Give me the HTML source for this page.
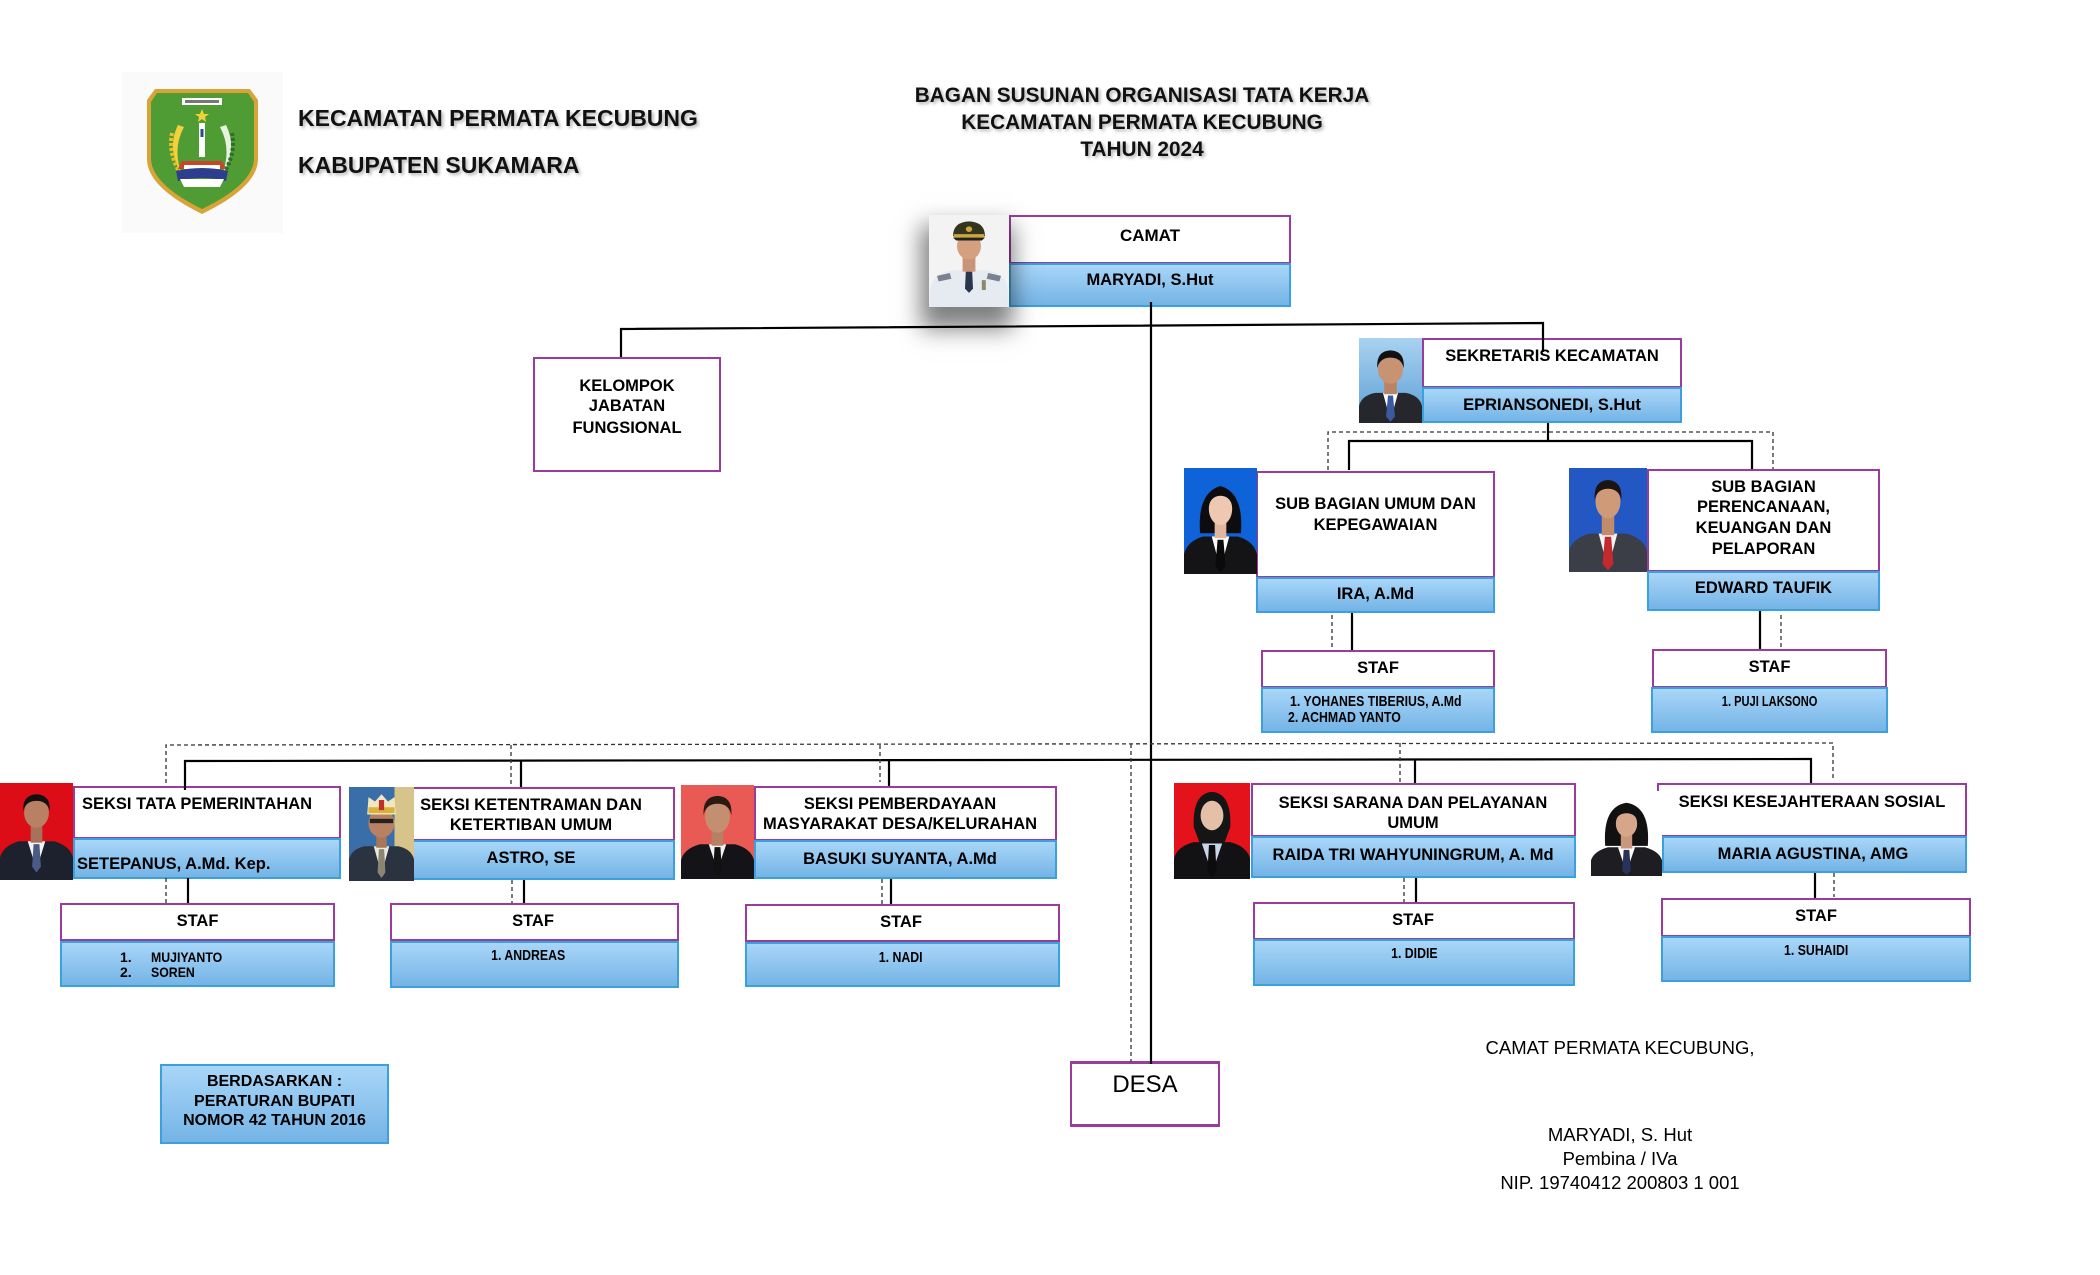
<!DOCTYPE html>
<html><head><meta charset="utf-8">
<style>
html,body{margin:0;padding:0;background:#fff;}
#pg{position:relative;width:2100px;height:1275px;overflow:hidden;background:#fff;font-family:"Liberation Sans",Arial,sans-serif;}
.w{position:absolute;background:#fff;border:2px solid #9b3c9c;box-sizing:border-box;}
.b{position:absolute;background:linear-gradient(#a9d6f8,#74b4e6);border:2px solid #3aa1dc;box-sizing:border-box;}
.t{position:absolute;font-weight:bold;font-size:16.5px;text-align:center;line-height:20px;height:20px;white-space:nowrap;color:#000;}
.l{text-align:left;}
.s{font-size:15px;}
.s span{display:inline-block;transform:scaleX(0.82);}
.p{position:absolute;overflow:hidden;}
.p svg{display:block;width:100%;height:100%;}
.hd{position:absolute;font-weight:bold;white-space:nowrap;color:#111;text-shadow:2px 2px 3px rgba(0,0,0,0.3);}
.sig{position:absolute;left:1420px;width:400px;text-align:center;font-size:18.5px;line-height:24px;height:24px;color:#000;white-space:nowrap;}
</style></head>
<body><div id="pg">

<!-- LOGO -->
<div style="position:absolute;left:122px;top:72px;width:161px;height:161px;background:#fafafa;"></div>
<svg style="position:absolute;left:146px;top:87px;" width="113" height="128" viewBox="0 0 113 128">
<path d="M9,2 L104,2 L112,13 L112,72 Q112,100 56,127 Q1,100 1,72 L1,13 Z" fill="#d9a437"/>
<path d="M11,6 L102,6 L108,15 L108,71 Q108,97 56,122 Q5,97 5,71 L5,15 Z" fill="#4f9b34"/>
<rect x="36" y="11" width="40" height="7" fill="#fff"/>
<rect x="39" y="13" width="34" height="3" fill="#777"/>
<polygon points="56,22 58,27 63,27 59,30 60,35 56,32 52,35 53,30 49,27 54,27" fill="#f2d23a"/>
<rect x="53" y="36" width="6" height="34" fill="#fff"/>
<rect x="54.5" y="42" width="3" height="8" fill="#2b4a8a"/>
<path d="M32,38 Q20,62 36,88 Q26,62 38,40 Z" fill="#f2d13c"/>
<path d="M26,46 Q22,66 34,86" stroke="#e8c02a" stroke-width="4" fill="none" stroke-dasharray="3 2"/>
<path d="M80,38 Q92,62 76,88 Q86,62 74,40 Z" fill="#e8f2e0"/>
<path d="M86,46 Q90,66 78,86" stroke="#2f6e2a" stroke-width="4" fill="none" stroke-dasharray="3 2"/>
<path d="M36,74 L76,74 L80,82 L32,82 Z" fill="#c8452c"/>
<rect x="38" y="78" width="36" height="4" fill="#fff"/>
<path d="M30,84 Q56,78 82,84 L80,94 Q56,88 32,94 Z" fill="#2d3f8c"/>
<path d="M34,92 L78,92 L74,100 L38,100 Z" fill="#fff"/>
</svg>

<div class="hd" style="left:298px;top:104px;font-size:23px;line-height:28px;">KECAMATAN PERMATA KECUBUNG</div>
<div class="hd" style="left:298px;top:151px;font-size:23px;line-height:28px;">KABUPATEN SUKAMARA</div>

<div class="hd" style="left:842px;width:600px;text-align:center;top:83px;font-size:20.8px;line-height:26px;">BAGAN SUSUNAN ORGANISASI TATA KERJA</div>
<div class="hd" style="left:842px;width:600px;text-align:center;top:110px;font-size:20.8px;line-height:26px;">KECAMATAN PERMATA KECUBUNG</div>
<div class="hd" style="left:842px;width:600px;text-align:center;top:137px;font-size:20.8px;line-height:26px;">TAHUN 2024</div>

<!-- CAMAT -->
<div class="w" style="left:1009px;top:215px;width:282px;height:49px;"></div>
<div class="b" style="left:1009px;top:263px;width:282px;height:44px;"></div>
<div class="t" style="left:1009px;width:282px;top:226px;font-size:17px;">CAMAT</div>
<div class="t" style="left:1009px;width:282px;top:270px;">MARYADI, S.Hut</div>
<div class="p" style="left:929px;top:215px;width:80px;height:92px;box-shadow:-2px 16px 22px 6px rgba(0,0,0,0.5);">
<svg viewBox="0 0 100 130" preserveAspectRatio="none"><rect width="100" height="130" fill="#f3f3f3"/>
<path d="M0,130 L2,100 Q6,84 28,78 L72,78 Q94,84 98,100 L100,130Z" fill="#e6ebf1"/>
<path d="M10,86 L26,82 L28,90 L12,94Z" fill="#7a8290"/><path d="M90,86 L74,82 L72,90 L88,94Z" fill="#7a8290"/>
<path d="M46,80 L54,80 L55,104 L50,110 L45,104Z" fill="#2a3550"/>
<rect x="66" y="92" width="5" height="14" fill="#8a8a6a"/>
<rect x="42" y="58" width="16" height="22" fill="#c99478"/>
<ellipse cx="50" cy="44" rx="15" ry="19" fill="#d4a080"/>
<path d="M30,30 Q30,10 50,9 Q70,10 70,30 Z" fill="#35351f"/>
<rect x="31" y="27" width="38" height="5" fill="#c9a640"/>
<path d="M30,32 L70,32 L66,36 L34,36Z" fill="#222"/>
<circle cx="50" cy="20" r="4" fill="#c9a640"/>
</svg></div>

<!-- KELOMPOK -->
<div class="w" style="left:533px;top:357px;width:188px;height:115px;"></div>
<div class="t" style="left:533px;width:188px;top:376px;">KELOMPOK</div>
<div class="t" style="left:533px;width:188px;top:396px;">JABATAN</div>
<div class="t" style="left:533px;width:188px;top:418px;">FUNGSIONAL</div>

<!-- SEKRETARIS -->
<div class="w" style="left:1422px;top:338px;width:260px;height:50px;"></div>
<div class="b" style="left:1422px;top:387px;width:260px;height:36px;"></div>
<div class="t" style="left:1422px;width:260px;top:346px;">SEKRETARIS KECAMATAN</div>
<div class="t" style="left:1422px;width:260px;top:395px;">EPRIANSONEDI, S.Hut</div>
<div class="p" style="left:1359px;top:338px;width:63px;height:85px;">
<svg viewBox="0 0 100 130" preserveAspectRatio="none"><defs><linearGradient id="g1" x1="0" y1="0" x2="0" y2="1"><stop offset="0" stop-color="#a9d2f0"/><stop offset="1" stop-color="#5b9fd6"/></linearGradient></defs>
<rect width="100" height="130" fill="url(#g1)"/>
<path d="M0,130 L0,104 Q4,88 26,84 L74,84 Q96,88 100,104 L100,130Z" fill="#26272c"/>
<path d="M38,84 L50,126 L62,84Z" fill="#fff"/>
<path d="M46,88 L54,88 L57,120 L50,128 L43,120Z" fill="#3c5aa2"/>
<rect x="40" y="64" width="20" height="22" fill="#b88466"/>
<ellipse cx="50" cy="48" rx="20" ry="22" fill="#c79373"/>
<path d="M29,46 Q27,20 50,19 Q73,20 71,46 Q67,30 50,30 Q33,30 29,46Z" fill="#111"/>
</svg></div>

<!-- SUB BAGIAN UMUM -->
<div class="w" style="left:1256px;top:471px;width:239px;height:107px;"></div>
<div class="b" style="left:1256px;top:577px;width:239px;height:36px;"></div>
<div class="t" style="left:1256px;width:239px;top:494px;">SUB BAGIAN UMUM DAN</div>
<div class="t" style="left:1256px;width:239px;top:515px;">KEPEGAWAIAN</div>
<div class="t" style="left:1256px;width:239px;top:584px;">IRA, A.Md</div>
<div class="p" style="left:1184px;top:468px;width:73px;height:106px;">
<svg viewBox="0 0 100 130" preserveAspectRatio="none"><rect width="100" height="130" fill="#0e63d8"/>
<path d="M22,80 Q18,30 50,22 Q82,30 78,80 Z" fill="#0d0d0f"/>
<path d="M0,130 L0,106 Q4,90 26,84 L74,84 Q96,90 100,106 L100,130Z" fill="#141417"/>
<path d="M38,84 L50,124 L62,84Z" fill="#fff"/>
<path d="M46,88 L54,88 L57,120 L50,128 L43,120Z" fill="#0a0a0a"/>
<rect x="42" y="64" width="16" height="22" fill="#e2b69e"/>
<ellipse cx="50" cy="50" rx="16" ry="20" fill="#efc8b2"/>
<path d="M33,50 Q30,26 50,25 Q70,26 67,50 Q64,34 50,34 Q36,34 33,50Z" fill="#0d0d0f"/>
</svg></div>

<!-- SUB BAGIAN PERENCANAAN -->
<div class="w" style="left:1647px;top:469px;width:233px;height:103px;"></div>
<div class="b" style="left:1647px;top:571px;width:233px;height:40px;"></div>
<div class="t" style="left:1647px;width:233px;top:477px;">SUB BAGIAN</div>
<div class="t" style="left:1647px;width:233px;top:497px;">PERENCANAAN,</div>
<div class="t" style="left:1647px;width:233px;top:518px;">KEUANGAN DAN</div>
<div class="t" style="left:1647px;width:233px;top:539px;">PELAPORAN</div>
<div class="t" style="left:1647px;width:233px;top:578px;">EDWARD TAUFIK</div>
<div class="p" style="left:1569px;top:468px;width:78px;height:104px;">
<svg viewBox="0 0 100 130" preserveAspectRatio="none"><rect width="100" height="130" fill="#2358c4"/>
<path d="M0,130 L0,104 Q4,88 26,82 L74,82 Q96,88 100,104 L100,130Z" fill="#3b3e46"/>
<path d="M38,82 L50,126 L62,82Z" fill="#f2f2f2"/>
<path d="M46,86 L54,86 L57,120 L50,128 L43,120Z" fill="#c22a30"/>
<rect x="42" y="60" width="16" height="24" fill="#c08c6c"/>
<ellipse cx="50" cy="42" rx="16" ry="21" fill="#cf9a78"/>
<path d="M33,40 Q31,16 50,15 Q69,16 67,40 Q64,26 50,26 Q36,26 33,40Z" fill="#1a1412"/>
</svg></div>

<!-- STAF IRA -->
<div class="w" style="left:1261px;top:650px;width:234px;height:38px;"></div>
<div class="b" style="left:1261px;top:687px;width:234px;height:46px;"></div>
<div class="t" style="left:1261px;width:234px;top:658px;">STAF</div>
<div class="t s l" style="left:1290px;top:692px;"><span style="transform-origin:left;">1. YOHANES TIBERIUS, A.Md</span></div>
<div class="t s l" style="left:1288px;top:708px;"><span style="transform-origin:left;">2. ACHMAD YANTO</span></div>

<!-- STAF EDWARD -->
<div class="w" style="left:1652px;top:649px;width:235px;height:39px;"></div>
<div class="b" style="left:1651px;top:687px;width:237px;height:46px;"></div>
<div class="t" style="left:1652px;width:235px;top:657px;">STAF</div>
<div class="t s" style="left:1652px;width:235px;top:692px;"><span style="transform:scaleX(0.74);">1. PUJI LAKSONO</span></div>

<!-- SEKSI TATA PEMERINTAHAN -->
<div class="w" style="left:73px;top:786px;width:268px;height:53px;"></div>
<div class="b" style="left:73px;top:838px;width:268px;height:41px;"></div>
<div class="t l" style="left:82px;top:794px;">SEKSI TATA PEMERINTAHAN</div>
<div class="t l" style="left:77px;top:854px;">SETEPANUS, A.Md. Kep.</div>
<div class="p" style="left:0px;top:783px;width:73px;height:97px;">
<svg viewBox="0 0 100 130" preserveAspectRatio="none"><rect width="100" height="130" fill="#dc0d16"/>
<path d="M0,130 L0,100 Q4,84 26,78 L74,78 Q96,84 100,100 L100,130Z" fill="#1c212d"/>
<path d="M38,78 L50,116 L62,78Z" fill="#f4f4f4"/>
<path d="M46,82 L54,82 L56,112 L50,120 L44,112Z" fill="#4a5c86"/>
<rect x="42" y="56" width="16" height="24" fill="#a8725a"/>
<ellipse cx="50" cy="40" rx="17" ry="20" fill="#b98064"/>
<path d="M32,38 Q30,16 50,15 Q70,16 68,38 Q65,24 50,24 Q35,24 32,38Z" fill="#141010"/>
</svg></div>

<div class="w" style="left:60px;top:903px;width:275px;height:38px;"></div>
<div class="b" style="left:60px;top:941px;width:275px;height:46px;"></div>
<div class="t" style="left:60px;width:275px;top:911px;">STAF</div>
<div class="t l" style="left:120px;top:947px;font-size:14px;">1.</div>
<div class="t l" style="left:151px;top:947px;font-size:14px;"><span style="display:inline-block;transform:scaleX(0.88);transform-origin:left;">MUJIYANTO</span></div>
<div class="t l" style="left:120px;top:962px;font-size:14px;">2.</div>
<div class="t l" style="left:151px;top:962px;font-size:14px;"><span style="display:inline-block;transform:scaleX(0.88);transform-origin:left;">SOREN</span></div>

<!-- SEKSI KETENTRAMAN -->
<div class="w" style="left:389px;top:787px;width:286px;height:54px;"></div>
<div class="b" style="left:389px;top:840px;width:286px;height:40px;"></div>
<div class="t" style="left:414px;width:234px;top:795px;">SEKSI KETENTRAMAN DAN</div>
<div class="t" style="left:414px;width:234px;top:815px;">KETERTIBAN UMUM</div>
<div class="t" style="left:414px;width:234px;top:848px;">ASTRO, SE</div>
<div class="p" style="left:349px;top:787px;width:65px;height:94px;">
<svg viewBox="0 0 100 130" preserveAspectRatio="none"><rect width="100" height="130" fill="#3a6ea8"/>
<rect x="70" width="30" height="130" fill="#d6c48a"/>
<path d="M0,130 L0,100 Q4,86 24,82 L76,82 Q96,86 100,100 L100,130Z" fill="#2b3240"/>
<path d="M38,82 L50,120 L62,82Z" fill="#e8e8e0"/>
<path d="M46,86 L54,86 L56,118 L50,126 L44,118Z" fill="#8a8670"/>
<rect x="42" y="62" width="16" height="22" fill="#a87658"/>
<ellipse cx="50" cy="50" rx="20" ry="20" fill="#b88262"/>
<rect x="32" y="44" width="36" height="6" fill="#222"/>
<path d="M28,38 L30,14 L40,20 L50,10 L60,20 L70,14 L72,38 Z" fill="#f0e6c0"/>
<rect x="30" y="28" width="40" height="8" fill="#d9b23a"/>
<rect x="46" y="18" width="8" height="14" fill="#c0302a"/>
</svg></div>

<div class="w" style="left:390px;top:903px;width:289px;height:38px;"></div>
<div class="b" style="left:390px;top:941px;width:289px;height:47px;"></div>
<div class="t" style="left:390px;width:286px;top:911px;">STAF</div>
<div class="t s" style="left:390px;width:276px;top:946px;"><span>1. ANDREAS</span></div>

<!-- SEKSI PEMBERDAYAAN -->
<div class="w" style="left:754px;top:786px;width:303px;height:55px;"></div>
<div class="b" style="left:754px;top:840px;width:303px;height:39px;"></div>
<div class="t" style="left:754px;width:292px;top:794px;">SEKSI PEMBERDAYAAN</div>
<div class="t" style="left:754px;width:292px;top:814px;">MASYARAKAT DESA/KELURAHAN</div>
<div class="t" style="left:754px;width:292px;top:849px;">BASUKI SUYANTA, A.Md</div>
<div class="p" style="left:681px;top:785px;width:73px;height:94px;">
<svg viewBox="0 0 100 130" preserveAspectRatio="none"><rect width="100" height="130" fill="#ea5a55"/>
<path d="M0,130 L0,104 Q4,88 26,82 L74,82 Q96,88 100,104 L100,130Z" fill="#141418"/>
<path d="M38,82 L50,118 L62,82Z" fill="#f2f2f2"/>
<path d="M46,86 L54,86 L56,118 L50,126 L44,118Z" fill="#111"/>
<rect x="42" y="60" width="16" height="24" fill="#b68064"/>
<ellipse cx="50" cy="44" rx="17" ry="22" fill="#c48e70"/>
<path d="M31,42 Q29,16 50,15 Q71,16 69,42 Q66,26 50,26 Q34,26 31,42Z" fill="#2a1a12"/>
</svg></div>

<div class="w" style="left:745px;top:904px;width:315px;height:38px;"></div>
<div class="b" style="left:745px;top:942px;width:315px;height:45px;"></div>
<div class="t" style="left:745px;width:312px;top:912px;">STAF</div>
<div class="t s" style="left:745px;width:312px;top:948px;"><span>1. NADI</span></div>

<!-- SEKSI SARANA -->
<div class="w" style="left:1251px;top:783px;width:325px;height:54px;"></div>
<div class="b" style="left:1251px;top:836px;width:325px;height:42px;"></div>
<div class="t" style="left:1251px;width:324px;top:793px;">SEKSI SARANA DAN PELAYANAN</div>
<div class="t" style="left:1251px;width:324px;top:813px;">UMUM</div>
<div class="t" style="left:1251px;width:324px;top:845px;">RAIDA TRI WAHYUNINGRUM, A. Md</div>
<div class="p" style="left:1174px;top:783px;width:76px;height:96px;">
<svg viewBox="0 0 100 130" preserveAspectRatio="none"><rect width="100" height="130" fill="#e3121b"/>
<path d="M0,130 L0,102 Q4,86 26,80 L74,80 Q96,86 100,102 L100,130Z" fill="#121214"/>
<path d="M36,80 L50,122 L64,80Z" fill="#c8d4ea"/>
<path d="M46,84 L54,84 L56,120 L50,128 L44,120Z" fill="#0c0c0c"/>
<path d="M26,60 Q24,14 50,12 Q76,14 74,60 L66,82 L34,82 Z" fill="#151515"/>
<ellipse cx="50" cy="44" rx="15" ry="20" fill="#e4c0a8"/>
</svg></div>

<div class="w" style="left:1253px;top:902px;width:322px;height:38px;"></div>
<div class="b" style="left:1253px;top:939px;width:322px;height:47px;"></div>
<div class="t" style="left:1253px;width:320px;top:910px;">STAF</div>
<div class="t s" style="left:1253px;width:322px;top:944px;"><span>1. DIDIE</span></div>

<!-- SEKSI KESEJAHTERAAN -->
<div class="w" style="left:1657px;top:783px;width:310px;height:54px;"></div>
<div class="b" style="left:1662px;top:836px;width:305px;height:37px;"></div>
<div class="t" style="left:1657px;width:310px;top:792px;">SEKSI KESEJAHTERAAN SOSIAL</div>
<div class="t" style="left:1662px;width:302px;top:844px;">MARIA AGUSTINA, AMG</div>
<div class="p" style="left:1591px;top:791px;width:71px;height:85px;">
<svg viewBox="0 0 100 130" preserveAspectRatio="none"><rect width="100" height="130" fill="#ffffff"/>
<path d="M20,84 Q16,24 50,18 Q84,24 80,84 Z" fill="#111"/>
<path d="M0,130 L0,106 Q4,92 24,86 L76,86 Q96,92 100,106 L100,130Z" fill="#1e1e22"/>
<path d="M38,86 L50,124 L62,86Z" fill="#fff"/>
<path d="M46,90 L54,90 L56,122 L50,128 L44,122Z" fill="#28335c"/>
<rect x="42" y="64" width="16" height="24" fill="#c9987c"/>
<ellipse cx="50" cy="50" rx="15" ry="20" fill="#d6a68a"/>
<path d="M34,48 Q32,26 50,25 Q68,26 66,48 Q63,34 50,34 Q37,34 34,48Z" fill="#111"/>
</svg></div>

<div class="w" style="left:1661px;top:898px;width:310px;height:39px;"></div>
<div class="b" style="left:1661px;top:936px;width:310px;height:46px;"></div>
<div class="t" style="left:1661px;width:310px;top:906px;">STAF</div>
<div class="t s" style="left:1661px;width:310px;top:941px;"><span>1. SUHAIDI</span></div>

<!-- DESA -->
<div class="w" style="left:1070px;top:1061px;width:150px;height:66px;border-top-width:3px;border-bottom-width:3px;"></div>
<div style="position:absolute;left:1070px;width:150px;top:1071px;height:28px;line-height:28px;text-align:center;font-size:24px;color:#000;">DESA</div>

<!-- BERDASARKAN -->
<div class="b" style="left:160px;top:1064px;width:229px;height:80px;"></div>
<div class="t" style="left:160px;width:229px;top:1072px;font-size:16px;">BERDASARKAN :</div>
<div class="t" style="left:160px;width:229px;top:1092px;font-size:16px;">PERATURAN BUPATI</div>
<div class="t" style="left:160px;width:229px;top:1111px;font-size:16px;">NOMOR 42 TAHUN 2016</div>

<!-- SIGNATURE -->
<div class="sig" style="top:1036px;">CAMAT PERMATA KECUBUNG,</div>
<div class="sig" style="top:1123px;">MARYADI, S. Hut</div>
<div class="sig" style="top:1147px;">Pembina / IVa</div>
<div class="sig" style="top:1171px;">NIP. 19740412 200803 1 001</div>

<!-- CONNECTORS -->
<svg style="position:absolute;left:0;top:0;" width="2100" height="1275" viewBox="0 0 2100 1275">
<g fill="none" stroke="#000" stroke-width="2.2">
<polyline points="621,357 621,329 1543,323 1543,352"/>
<line x1="1151" y1="302" x2="1151" y2="1064"/>
<line x1="1548" y1="423" x2="1548" y2="441"/>
<polyline points="1349,470 1349,441 1752,441 1752,469"/>
<line x1="1352" y1="613" x2="1352" y2="650"/>
<line x1="1760" y1="611" x2="1760" y2="649"/>
<polyline points="185,790 185,761 1811,759 1811,783"/>
<line x1="521" y1="760" x2="521" y2="787"/>
<line x1="889" y1="760" x2="889" y2="786"/>
<line x1="1415" y1="759" x2="1415" y2="783"/>
<line x1="188" y1="878" x2="188" y2="903"/>
<line x1="524" y1="880" x2="524" y2="903"/>
<line x1="891" y1="879" x2="891" y2="904"/>
<line x1="1416" y1="878" x2="1416" y2="902"/>
<line x1="1815" y1="873" x2="1815" y2="898"/>
</g>
<g fill="none" stroke="#333" stroke-width="1.3" stroke-dasharray="4 3">
<polyline points="1328,470 1328,432 1773,432 1773,469"/>
<line x1="1332" y1="615" x2="1332" y2="650"/>
<line x1="1781" y1="615" x2="1781" y2="648"/>
<polyline points="166,783 166,745 1833,743 1833,779"/>
<line x1="511" y1="745" x2="511" y2="787"/>
<line x1="880" y1="745" x2="880" y2="782"/>
<line x1="1131" y1="744" x2="1131" y2="1062"/>
<line x1="1400" y1="743" x2="1400" y2="782"/>
<line x1="166" y1="878" x2="166" y2="903"/>
<line x1="512" y1="880" x2="512" y2="903"/>
<line x1="882" y1="879" x2="882" y2="904"/>
<line x1="1404" y1="878" x2="1404" y2="902"/>
<line x1="1834" y1="873" x2="1834" y2="897"/>
</g>
</svg>

</div></body></html>
